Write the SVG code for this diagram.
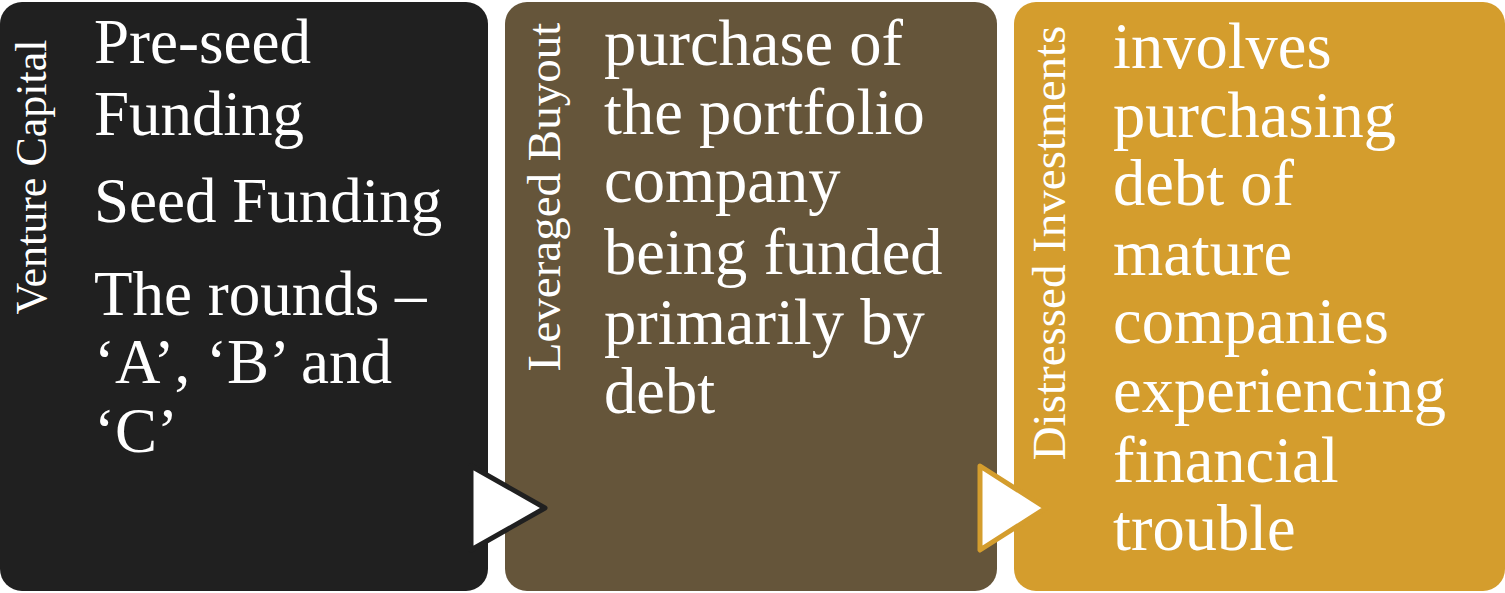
<svg xmlns="http://www.w3.org/2000/svg" width="1505" height="593" viewBox="0 0 1505 593">
<style>
.t{font-family:"Liberation Serif","Times New Roman",serif;fill:#ffffff;font-size:63px}
.v{font-family:"Liberation Serif","Times New Roman",serif;fill:#ffffff;font-size:47px;text-anchor:middle}
</style>
<rect width="1505" height="593" fill="#ffffff"/>
<g id="node-venture">
<rect x="0" y="2" width="488" height="589" rx="22" fill="#202020"/>
<text class="v" style="font-size:44px" transform="translate(46,177) rotate(-90)">Venture Capital</text>
<text class="t"><tspan x="94" y="63">Pre-seed</tspan><tspan x="94" y="135">Funding</tspan><tspan x="94" y="222">Seed Funding</tspan><tspan x="94" y="315">The rounds –</tspan><tspan x="94" y="383">‘A’, ‘B’ and</tspan><tspan x="94" y="452">‘C’</tspan></text>
</g>
<g id="node-lbo">
<rect x="505" y="2" width="492" height="589" rx="22" fill="#65553a"/>
<text class="v" transform="translate(560,197) rotate(-90)">Leveraged Buyout</text>
<text class="t" style="font-size:64.5px"><tspan x="604" y="65">purchase of</tspan><tspan x="604" y="134">the portfolio</tspan><tspan x="604" y="202">company</tspan><tspan x="604" y="274">being funded</tspan><tspan x="604" y="344">primarily by</tspan><tspan x="604" y="413">debt</tspan></text>
</g>
<g id="node-distressed">
<rect x="1014" y="2" width="491" height="589" rx="22" fill="#d49d2d"/>
<text class="v" transform="translate(1065,243) rotate(-90)">Distressed Investments</text>
<text class="t" style="font-size:64.5px"><tspan x="1113" y="68">involves</tspan><tspan x="1113" y="137">purchasing</tspan><tspan x="1113" y="205">debt of</tspan><tspan x="1113" y="275">mature</tspan><tspan x="1113" y="343">companies</tspan><tspan x="1113" y="412">experiencing</tspan><tspan x="1113" y="482">financial</tspan><tspan x="1113" y="550">trouble</tspan></text>
</g>
<g id="connectors">
<polygon points="471,466 545,508 471,550" fill="#ffffff" stroke="#202020" stroke-width="5" stroke-linejoin="round"/>
<polygon points="980,466 1046,508 980,550" fill="#ffffff" stroke="#d49d2d" stroke-width="5" stroke-linejoin="round"/>
</g>
</svg>
